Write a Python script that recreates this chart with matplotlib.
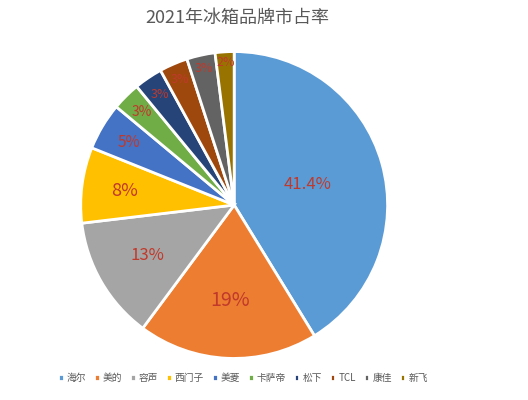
import numpy as np
import matplotlib.pyplot as plt

plt.rcParams['font.family'] = ['Noto Sans CJK SC', 'DejaVu Sans']

brands = ["海尔", "美的", "容声", "西门子", "美菱", "卡萨帝", "松下", "TCL", "康佳", "新飞"]
shares = [41.4, 19, 13, 8, 5, 3, 3, 3, 3, 2]
share_labels = ["41.4%", "19%", "13%", "8%", "5%", "3%", "3%", "3%", "3%", "2%"]
colors = ["#5B9BD5", "#ED7D31", "#A5A5A5", "#FFC000", "#4472C4",
          "#70AD47", "#264478", "#9E480E", "#636363", "#997300"]
label_dist = [0.5, 0.62, 0.65, 0.72, 0.8, 0.85, 0.87, 0.89, 0.91, 0.93]
label_size = [12, 14, 12, 13, 11, 10, 9, 9, 9, 9]

fig = plt.figure(figsize=(5.28, 4), dpi=100)
ax = fig.add_axes([0.15, 0.10, 0.587, 0.775])

wedges, _ = ax.pie(shares, colors=colors, startangle=90, counterclock=False,
                   wedgeprops=dict(edgecolor="white", linewidth=2))

for w, lab, d, s in zip(wedges, share_labels, label_dist, label_size):
    ang = np.deg2rad((w.theta1 + w.theta2) / 2)
    ax.text(d * np.cos(ang), d * np.sin(ang), lab, ha="center", va="center",
            color="#C0392B", fontsize=s)
ax.set_aspect("equal")
ax.set_xlim(-1.01, 1.01)
ax.set_ylim(-1.01, 1.01)

fig.text(0.45, 0.955, "2021年冰箱品牌市占率", ha="center", va="center",
         fontsize=13, color="#595959")

fig.legend(wedges, brands, loc="center", bbox_to_anchor=(0.46, 0.055), ncol=10,
           frameon=False, fontsize=7, handlelength=0.6, handleheight=0.6,
           columnspacing=0.8, handletextpad=0.3, labelcolor="#595959")

fig.savefig("out.png", dpi=100, facecolor="white")
